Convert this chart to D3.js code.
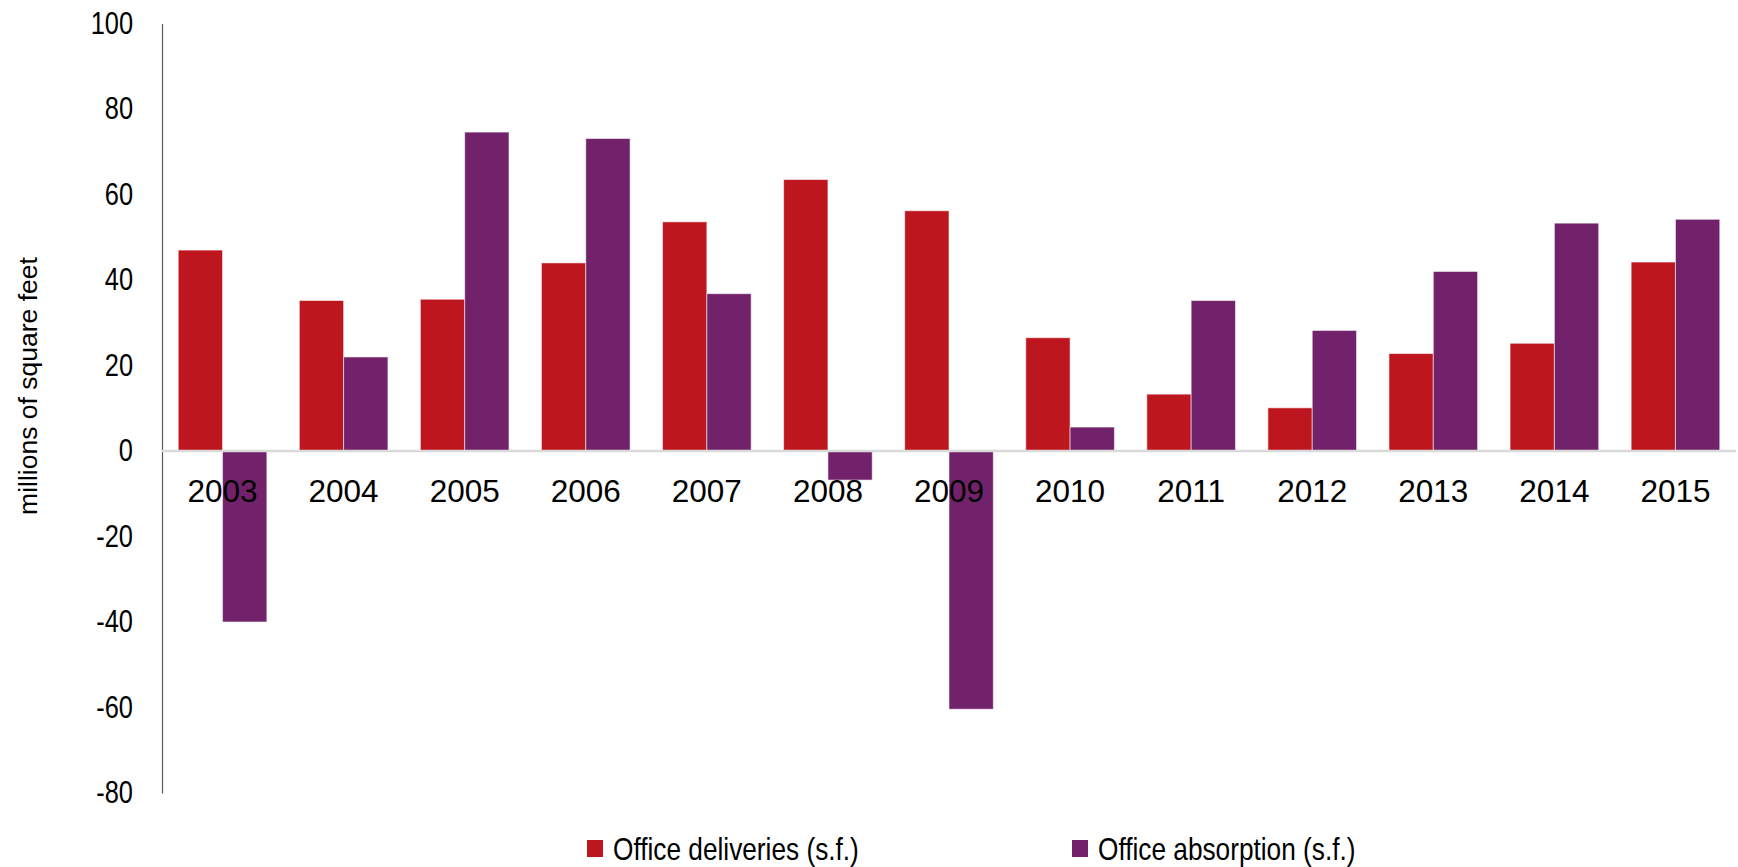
<!DOCTYPE html>
<html>
<head>
<meta charset="utf-8">
<script src="https://cdn.jsdelivr.net/npm/d3@7"></script>
<style>
  body { margin: 0; background: #fff; }
  svg { display: block; font-family: "Liberation Sans", Arial, sans-serif; }
</style>
</head>
<body>
<svg id="chart" width="1738" height="867"></svg>
<script>
// chart data
var years = ["2003", "2004", "2005", "2006", "2007", "2008", "2009", "2010", "2011", "2012", "2013", "2014", "2015"];
var deliveries = [47, 35.2, 35.5, 44, 53.6, 63.5, 56.2, 26.5, 13.3, 10.1, 22.8, 25.2, 44.2];
var absorption = [-40, 22, 74.6, 73.1, 36.8, -6.8, -60.4, 5.6, 35.2, 28.2, 42, 53.3, 54.2];
var yTicks = [100, 80, 60, 40, 20, 0, -20, -40, -60, -80];
var seriesNames = ["Office deliveries (s.f.)", "Office absorption (s.f.)"];
var seriesColors = ["#BD161E", "#72226A"];

var svg = d3.select("#chart");

// plot box
var plotL = 162, plotR = 1736, plotT = 23.5, plotB = 793;
var narrow = 0.82; // squeeze for the condensed look of axis and legend text

var y = d3.scaleLinear().domain([-80, 100]).range([plotB, plotT]);
var x = d3.scaleBand().domain(years).range([plotL, plotR]).paddingInner(0.268).paddingOuter(0.134);
var xSub = d3.scaleBand().domain([0, 1]).range([0, x.bandwidth()]);

// y axis (plain hyphen for negatives, like the original)
var yAxis = svg.append("g")
    .attr("transform", "translate(" + plotL + ",0)")
    .call(d3.axisLeft(y).tickValues(yTicks).tickSize(0).tickPadding(29)
        .tickFormat(function(d) { return String(d); }));
yAxis.select(".domain").attr("stroke", "#595959").attr("stroke-width", 1.2);
yAxis.selectAll("text")
    .attr("font-size", 31)
    .attr("font-family", null)
    .attr("fill", "#000")
    .attr("x", -29 / narrow)
    .attr("transform", "scale(" + narrow + ",1)");

// bars
var rows = years.map(function(d, i) { return { year: d, vals: [deliveries[i], absorption[i]] }; });

var groups = svg.selectAll(".grp")
    .data(rows)
    .enter().append("g")
    .attr("class", "grp")
    .attr("transform", function(d) { return "translate(" + x(d.year) + ",0)"; });

groups.selectAll("rect")
    .data(function(d) { return d.vals; })
    .enter().append("rect")
    .attr("x", function(d, i) { return xSub(i); })
    .attr("width", xSub.bandwidth())
    .attr("y", function(d) { return d >= 0 ? y(d) : y(0); })
    .attr("height", function(d) { return Math.abs(y(d) - y(0)); })
    .attr("fill", function(d, i) { return seriesColors[i]; })
    .attr("stroke", "rgba(255,255,255,0.55)")
    .attr("stroke-width", 1);

// zero line
svg.append("line")
    .attr("x1", plotL).attr("x2", plotR)
    .attr("y1", y(0)).attr("y2", y(0))
    .attr("stroke", "#d9d9d9").attr("stroke-width", 2.5);

// category labels
svg.append("g").selectAll("text")
    .data(years)
    .enter().append("text")
    .attr("x", function(d) { return x(d) + x.bandwidth() / 2; })
    .attr("y", y(0) + 51)
    .attr("text-anchor", "middle")
    .attr("font-size", 31.5)
    .text(function(d) { return d; });

// y title
svg.append("text")
    .attr("transform", "translate(37,386) rotate(-90)")
    .attr("text-anchor", "middle")
    .attr("font-size", 26.5)
    .text("millions of square feet");

// legend
var legendX = [587, 1072];
var legend = svg.selectAll(".leg")
    .data(seriesNames)
    .enter().append("g")
    .attr("class", "leg")
    .attr("transform", function(d, i) { return "translate(" + legendX[i] + ",840)"; });
legend.append("rect")
    .attr("width", 16).attr("height", 17)
    .attr("fill", function(d, i) { return seriesColors[i]; });
legend.append("text")
    .attr("x", 26 / narrow).attr("y", 20)
    .attr("transform", "scale(" + narrow + ",1)")
    .attr("font-size", 32)
    .text(function(d) { return d; });
</script>
</body>
</html>
